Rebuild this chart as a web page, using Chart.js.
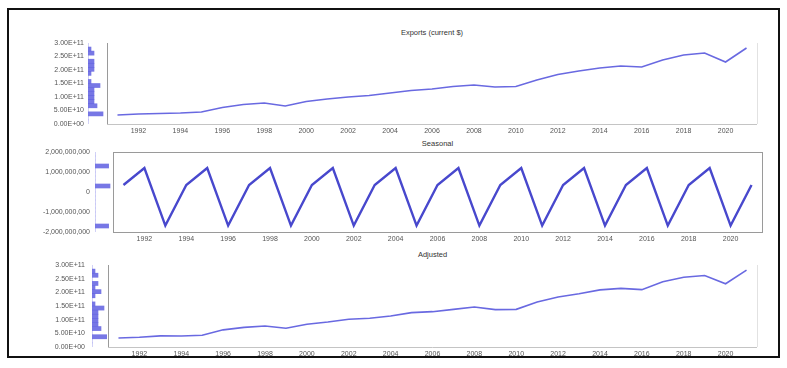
<!DOCTYPE html>
<html>
<head>
<meta charset="utf-8">
<script src="https://cdn.jsdelivr.net/npm/chart.js@4.4.1/dist/chart.umd.min.js"></script>
<style>
  html, body { margin: 0; padding: 0; background: #fff; }
  #stage { position: relative; width: 787px; height: 368px; overflow: hidden;
           font-family: "Liberation Sans", Arial, sans-serif; }
  #frame { position: absolute; left: 7px; top: 8px; width: 773px; height: 350px;
           border: 2px solid #111; box-sizing: border-box; }
  canvas { position: absolute; }
  .ttl { position: absolute; font-size: 7.5px; color: #333; white-space: nowrap;
         transform: translate(-50%, -50%); }
</style>
</head>
<body>
<div id="stage"><div id="frame"></div></div>
<script>
// Annual series, values in billions of dollars
const years = [1991, 1992, 1993, 1994, 1995, 1996, 1997, 1998, 1999, 2000,
               2001, 2002, 2003, 2004, 2005, 2006, 2007, 2008, 2009, 2010,
               2011, 2012, 2013, 2014, 2015, 2016, 2017, 2018, 2019, 2020, 2021];
const yearTicks = [1992, 1994, 1996, 1998, 2000, 2002, 2004, 2006, 2008, 2010,
                   2012, 2014, 2016, 2018, 2020];

const original = [33.3, 37.0, 38.9, 40.7, 44.4, 61.1, 72.2, 77.8, 66.7, 83.3,
                  92.6, 100.0, 105.6, 114.8, 124.1, 129.6, 138.9, 144.4, 137.0, 138.9,
                  163.0, 183.3, 196.3, 207.4, 214.8, 211.1, 237.0, 255.6, 263.0, 229.6, 281.5];
const seasonal = [0.35, 1.2, -1.68, 0.35, 1.2, -1.68, 0.35, 1.2, -1.68, 0.35,
                  1.2, -1.68, 0.35, 1.2, -1.68, 0.35, 1.2, -1.68, 0.35, 1.2,
                  -1.68, 0.35, 1.2, -1.68, 0.35, 1.2, -1.68, 0.35, 1.2, -1.68, 0.35];
const adjusted = [32.95, 35.8, 40.58, 40.35, 43.2, 62.78, 71.85, 76.6, 68.38, 82.95,
                  91.4, 101.68, 105.25, 113.6, 125.78, 129.25, 137.7, 146.08, 136.65, 137.7,
                  164.68, 182.95, 195.1, 209.08, 214.45, 209.9, 238.68, 255.25, 261.8, 231.28, 281.15];

const levelTicks = [0, 50, 100, 150, 200, 250, 300];
const seasonalTicks = [-2, -1, 0, 1, 2];

// Tick label formatters (inputs in billions)
function sci(v) {
  const x = v * 1e9;
  if (x === 0) return '0.00E+00';
  const e = Math.floor(Math.log10(Math.abs(x)));
  const m = x / Math.pow(10, e);
  return m.toFixed(2) + 'E+' + String(e).padStart(2, '0');
}
function grouped(v) {
  return (v * 1e9).toLocaleString('en-US');
}

const panels = [
  { title: 'Exports (current $)', titleY: 32, top: 43, bottom: 124, left: 107, right: 757,
    labelRight: 84, histLeft: 88, values: original, ticks: levelTicks, fmt: sci,
    boxed: false, lineColor: 'rgb(105,105,225)', lineWidth: 1.6 },
  { title: 'Seasonal', titleY: 143, top: 152, bottom: 232, left: 113, right: 762,
    labelRight: 90, histLeft: 95, values: seasonal, ticks: seasonalTicks, fmt: grouped,
    boxed: true, lineColor: 'rgb(72,72,205)', lineWidth: 2.4 },
  { title: 'Adjusted', titleY: 254, top: 265, bottom: 347, left: 108, right: 757,
    labelRight: 85, histLeft: 92, values: adjusted, ticks: levelTicks, fmt: sci,
    boxed: false, lineColor: 'rgb(105,105,225)', lineWidth: 1.6 }
];

// Outline of the plot area: full box or left/bottom axes with a faint right edge
const plotFrame = {
  id: 'plotFrame',
  afterDraw(chart, args, opts) {
    const a = chart.chartArea, c = chart.ctx;
    c.save();
    c.lineWidth = 1;
    if (opts.boxed) {
      c.strokeStyle = '#9a9a9a';
      c.strokeRect(a.left + 0.5, a.top + 0.5, a.right - a.left, a.bottom - a.top);
    } else {
      c.strokeStyle = '#e2e2e2';
      c.beginPath(); c.moveTo(a.right + 0.5, a.top); c.lineTo(a.right + 0.5, a.bottom); c.stroke();
      c.strokeStyle = '#c4c4c4';
      c.beginPath(); c.moveTo(a.left, a.bottom + 0.5); c.lineTo(a.right, a.bottom + 0.5); c.stroke();
      c.strokeStyle = '#9a9a9a';
      c.beginPath(); c.moveTo(a.left + 0.5, a.top); c.lineTo(a.left + 0.5, a.bottom); c.stroke();
    }
    c.restore();
  }
};

const stage = document.getElementById('stage');
const W = 787;
const padTop = 6, xAxisH = 14;
const nBins = 20;

panels.forEach((p) => {
  // title
  const t = document.createElement('div');
  t.className = 'ttl';
  t.textContent = p.title;
  t.style.left = ((p.left + p.right) / 2) + 'px';
  t.style.top = p.titleY + 'px';
  stage.appendChild(t);

  const yMin = p.ticks[0], yMax = p.ticks[p.ticks.length - 1];

  // main line chart
  const cv = document.createElement('canvas');
  const h = padTop + (p.bottom - p.top) + xAxisH;
  cv.width = W; cv.height = h;
  cv.style.left = '0px'; cv.style.top = (p.top - padTop) + 'px';
  cv.style.width = W + 'px'; cv.style.height = h + 'px';
  stage.appendChild(cv);

  new Chart(cv, {
    type: 'line',
    data: {
      labels: years,
      datasets: [{ data: p.values, borderColor: p.lineColor, borderWidth: p.lineWidth,
                   pointRadius: 0, tension: 0, fill: false }]
    },
    options: {
      responsive: false, animation: false, devicePixelRatio: 1,
      layout: { padding: { top: padTop, right: W - p.right, left: 0, bottom: 0 } },
      plugins: { legend: { display: false }, tooltip: { enabled: false },
                 plotFrame: { boxed: p.boxed } },
      scales: {
        x: {
          type: 'category', offset: true,
          grid: { display: false, drawTicks: false },
          border: { display: false },
          ticks: {
            autoSkip: false, maxRotation: 0, padding: 3,
            color: '#555', font: { size: 7, family: '"Liberation Sans", Arial, sans-serif' },
            callback(v) { const y = this.getLabelForValue(v); return yearTicks.includes(y) ? String(y) : ''; }
          },
          afterFit(s) { s.height = xAxisH; }
        },
        y: {
          min: yMin, max: yMax,
          afterBuildTicks(s) { s.ticks = p.ticks.map(v => ({ value: v })); },
          // invisible tick marks keep the labels clear of the histogram strip
          grid: { display: true, drawOnChartArea: false, drawTicks: true,
                  tickLength: p.left - p.labelRight, tickColor: 'rgba(0,0,0,0)' },
          border: { display: false },
          ticks: {
            padding: 0,
            color: '#555', font: { size: 7, family: '"Liberation Sans", Arial, sans-serif' },
            callback: (v) => p.fmt(v)
          },
          afterFit(s) { s.width = p.left; }
        }
      }
    },
    plugins: [plotFrame]
  });

  // marginal histogram of the series, binned over the axis range (top bin first)
  const counts = new Array(nBins).fill(0);
  p.values.forEach(v => {
    let b = Math.floor((v - yMin) / (yMax - yMin) * nBins);
    b = Math.max(0, Math.min(nBins - 1, b));
    counts[nBins - 1 - b] += 1;
  });
  const binLabels = counts.map((_, i) => i);
  const maxCount = Math.max(...counts);

  const hv = document.createElement('canvas');
  const hw = p.left - p.histLeft - 1, hh = p.bottom - p.top;
  hv.width = hw; hv.height = hh;
  hv.style.left = p.histLeft + 'px'; hv.style.top = p.top + 'px';
  hv.style.width = hw + 'px'; hv.style.height = hh + 'px';
  stage.appendChild(hv);

  new Chart(hv, {
    type: 'bar',
    data: {
      labels: binLabels,
      datasets: [{ data: counts, backgroundColor: 'rgba(95,95,225,0.85)', borderWidth: 0,
                   barPercentage: 1, categoryPercentage: 1 }]
    },
    options: {
      indexAxis: 'y',
      responsive: false, animation: false, devicePixelRatio: 1,
      layout: { padding: 0 },
      plugins: { legend: { display: false }, tooltip: { enabled: false } },
      scales: {
        x: { display: false, min: 0, max: maxCount * hw / 15 },
        y: { display: false, offset: true }
      }
    }
  });
});
</script>
</body>
</html>
